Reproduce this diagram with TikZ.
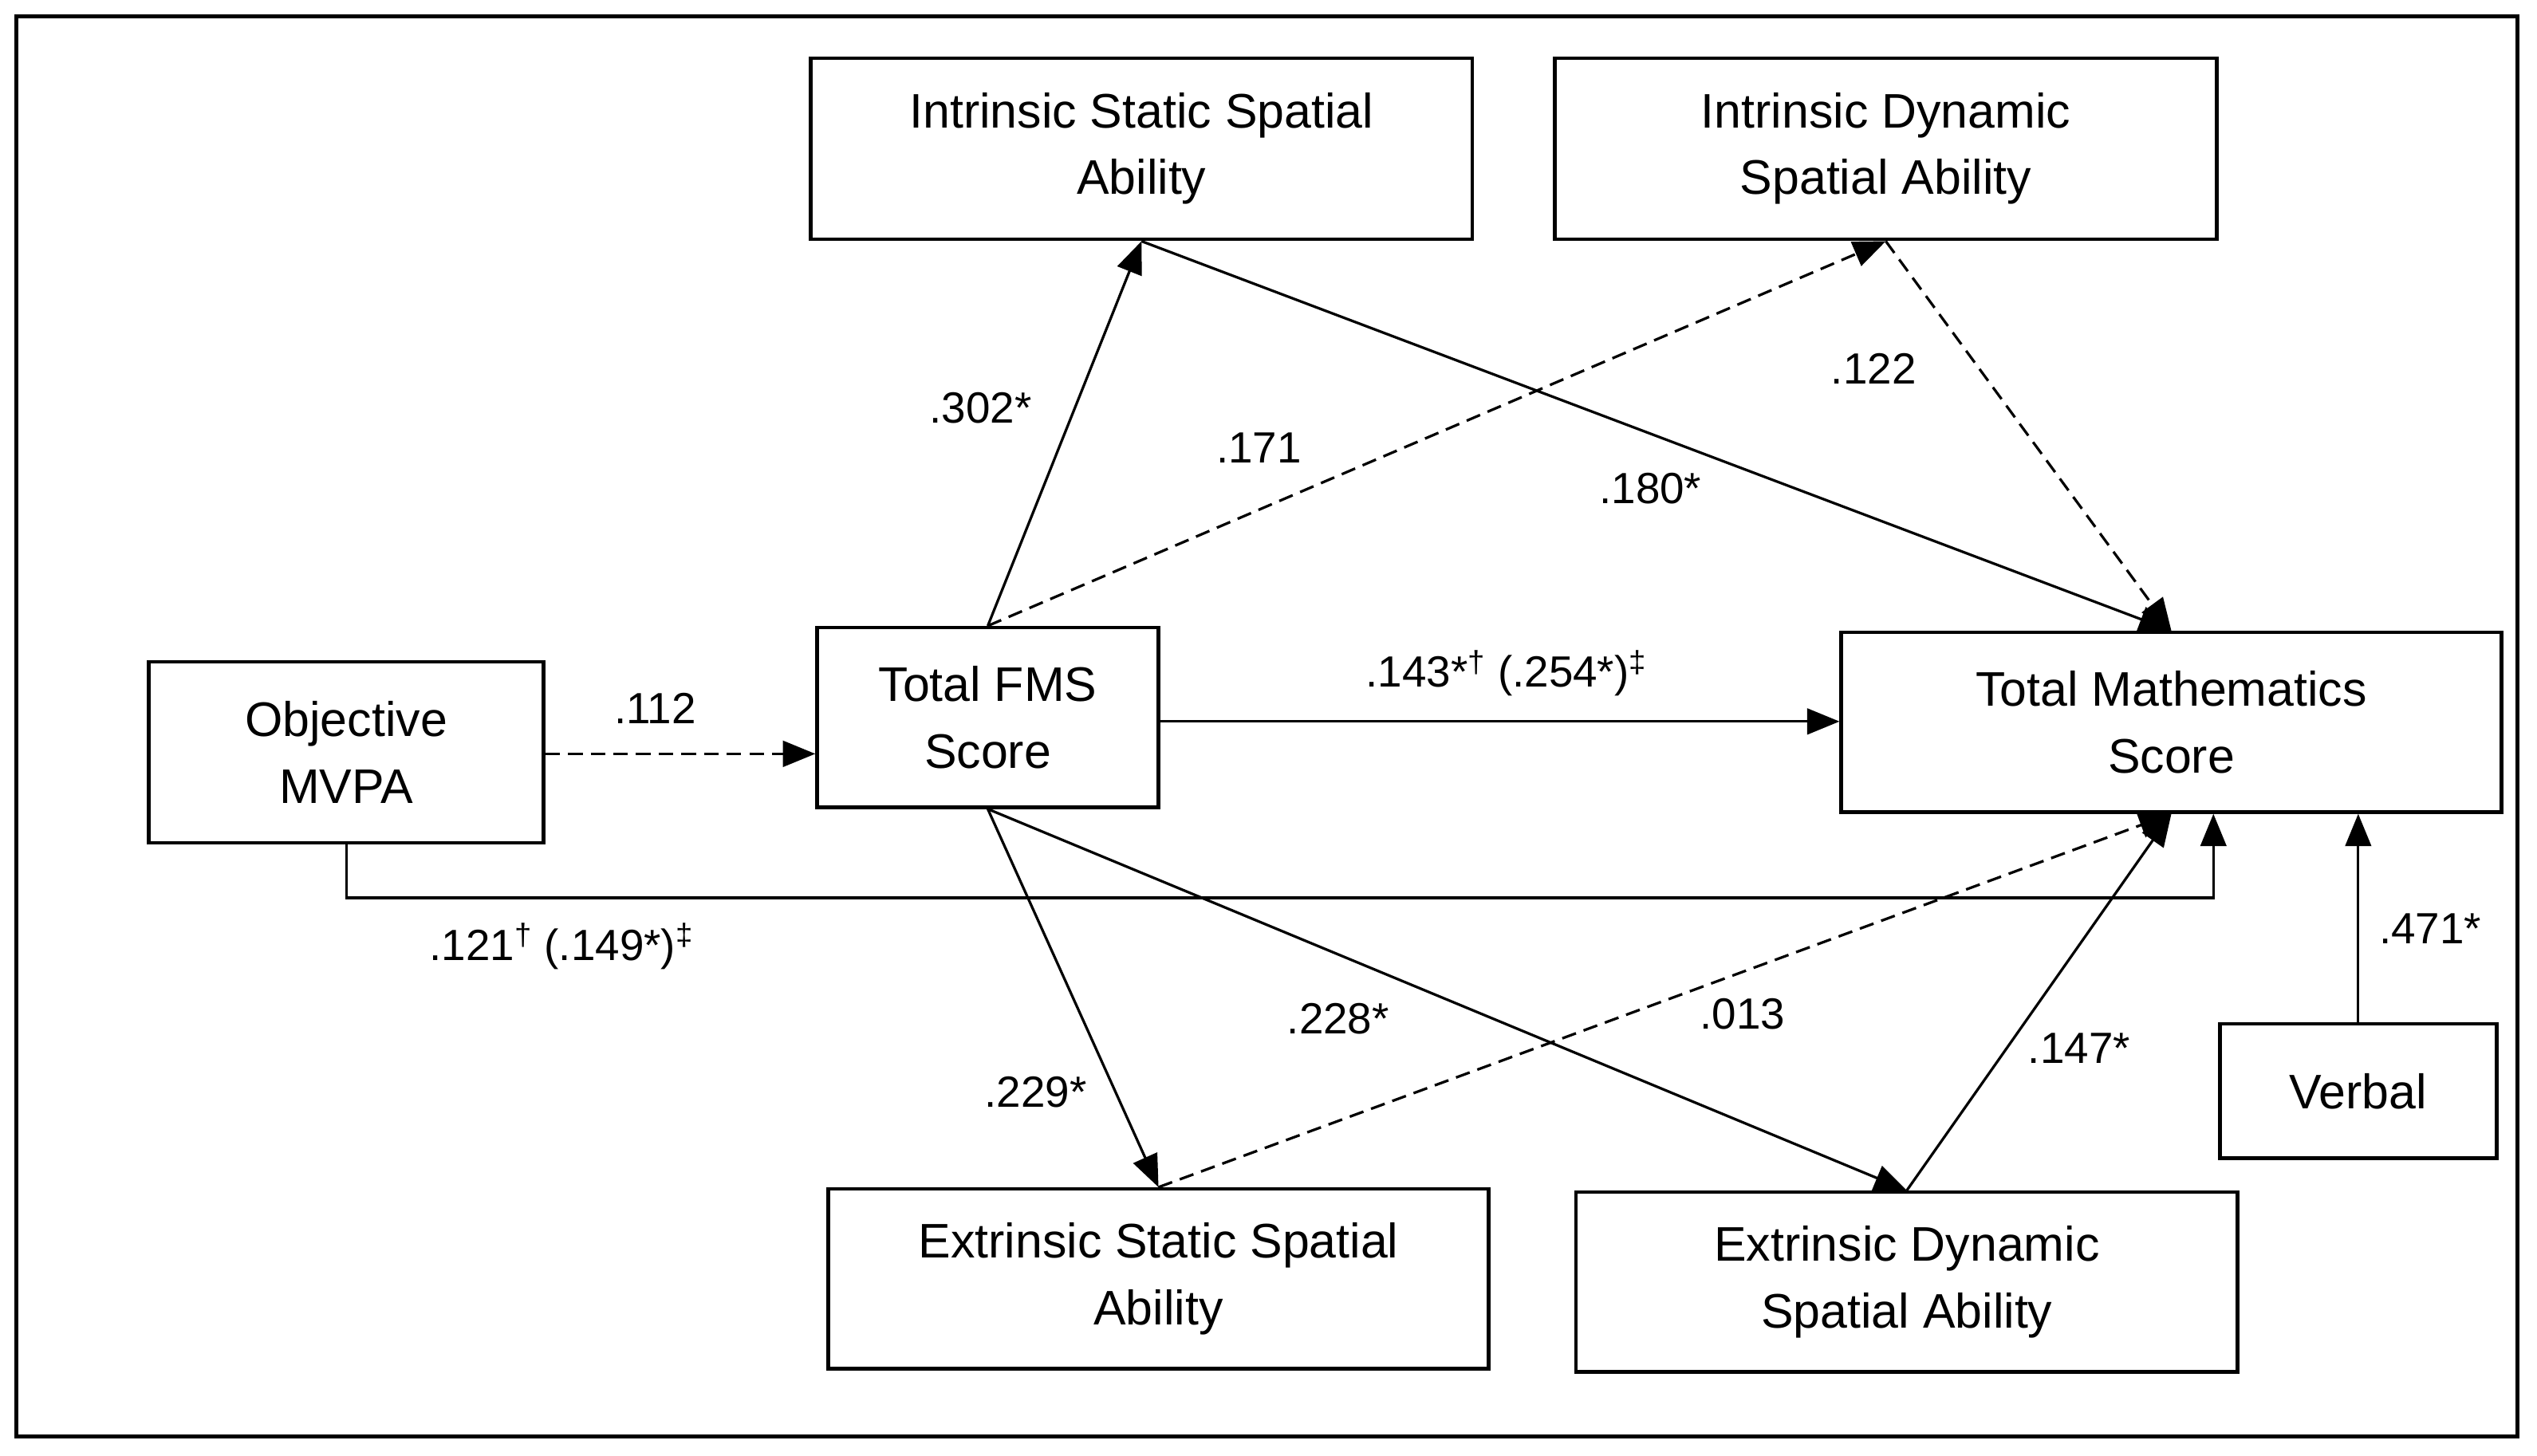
\documentclass[tikz,border=0pt]{standalone}
\usepackage{fontspec}
\setmainfont{Liberation Sans}
\usetikzlibrary{arrows.meta,calc}
\begin{document}
\begin{tikzpicture}[x=1pt,y=-1pt,
  box/.style={draw,line width=2.2pt,inner sep=0pt,align=center,font=\fontsize{30}{41}\selectfont},
  lab/.style={font=\fontsize{27}{32}\selectfont},
  arr/.style={line width=1.6pt,-{Triangle[length=20pt,width=16pt]}},
  dsh/.style={arr,dash pattern=on 9pt off 5pt}]
\useasboundingbox (0,0) rectangle (1568,900);
\fill[white] (0,0) rectangle (1568,900);
\draw[line width=2.2pt] (10,10) rectangle (1556,888);
\node[box,minimum width=409pt,minimum height=112pt] (IS) at (705.5,92) {Intrinsic Static Spatial\\Ability};
\node[box,minimum width=409pt,minimum height=112pt] (ID) at (1165.5,92) {Intrinsic Dynamic\\Spatial Ability};
\node[box,minimum width=244pt,minimum height=112pt] (MV) at (214,465) {Objective\\MVPA};
\node[box,minimum width=211pt,minimum height=111pt] (FMS) at (610.5,443.5) {Total FMS\\Score};
\node[box,minimum width=408pt,minimum height=111pt] (TM) at (1342,446.5) {Total Mathematics\\Score};
\node[box,minimum width=171pt,minimum height=83pt] (VB) at (1457.5,674.5) {Verbal};
\node[box,minimum width=408pt,minimum height=111pt] (ES) at (716,790.5) {Extrinsic Static Spatial\\Ability};
\node[box,minimum width=409pt,minimum height=111pt] (ED) at (1178.5,792.5) {Extrinsic Dynamic\\Spatial Ability};
\draw[arr] (FMS.north) -- (IS.south);
\draw[dsh] (FMS.north) -- (ID.south);
\draw[arr] (IS.south) -- (TM.north);
\draw[dsh] (ID.south) -- (TM.north);
\draw[dsh] (MV.east |- 0,466) -- (FMS.west |- 0,466);
\draw[arr] (FMS.east |- 0,446) -- (TM.west |- 0,446);
\coordinate (tmb) at ([xshift=26pt]TM.south);
\draw[arr] (MV.south) -- (MV.south |- 0,555) -| (tmb);
\draw[arr] (FMS.south) -- (ES.north);
\draw[arr] (FMS.south) -- (ED.north);
\draw[dsh] (ES.north) -- (TM.south);
\draw[arr] (ED.north) -- (TM.south);
\draw[arr] (VB.north) -- (VB.north |- TM.south);
\node[lab] (l1) at (606,252) {.302*};
\node[lab] (l2) at (778,277) {.171};
\node[lab] (l3) at (1158,228) {.122};
\node[lab] (l4) at (1020,302) {.180*};
\node[lab] (l5) at (405,438) {.112};
\node[lab] (l6) at (931,416) {.143*\textsuperscript{†} (.254*)\textsuperscript{‡}};
\node[lab] (l7) at (347,585) {.121\textsuperscript{†} (.149*)\textsuperscript{‡}};
\node[lab] (l8) at (827,630) {.228*};
\node[lab] (l9) at (1077,627) {.013};
\node[lab] (l10) at (640,675) {.229*};
\node[lab] (l11) at (1285,648) {.147*};
\node[lab] (l12) at (1502,574) {.471*};
\end{tikzpicture}
\end{document}
